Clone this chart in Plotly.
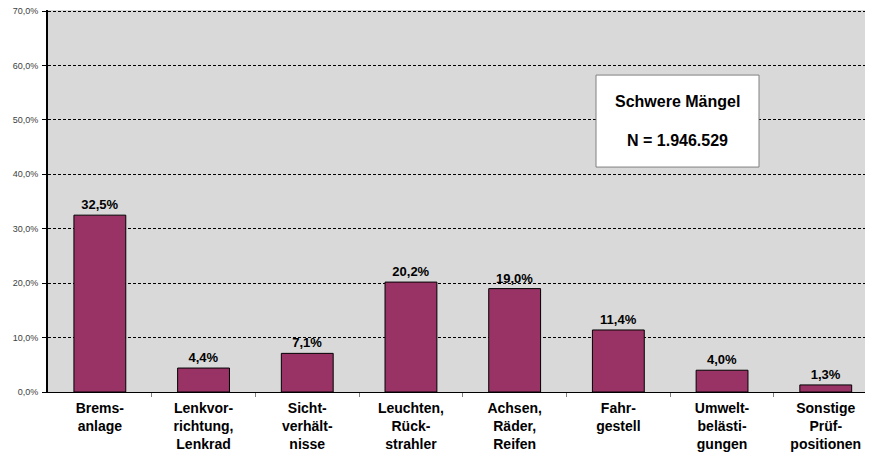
import plotly.graph_objects as go

categories = [
    "Brems-<br>anlage",
    "Lenkvor-<br>richtung,<br>Lenkrad",
    "Sicht-<br>verhält-<br>nisse",
    "Leuchten,<br>Rück-<br>strahler",
    "Achsen,<br>Räder,<br>Reifen",
    "Fahr-<br>gestell",
    "Umwelt-<br>belästi-<br>gungen",
    "Sonstige<br>Prüf-<br>positionen",
]
values = [32.5, 4.4, 7.1, 20.2, 19.0, 11.4, 4.0, 1.3]
y_ticks = [0, 10, 20, 30, 40, 50, 60, 70]
y_tick_labels = ["0,0%", "10,0%", "20,0%", "30,0%", "40,0%", "50,0%", "60,0%", "70,0%"]
box_title = "Schwere Mängel"
box_n = "N = 1.946.529"

labels = [f"{v:.1f}".replace(".", ",") + "%" for v in values]

# page has a default 8px body margin; compensate so the plot lands where the reference has it
OFF = 8
W, H = 873 - OFF, 459 - OFF
PL, PT, PB = 48, 11, 392            # target page pixels of plot left/top/bottom
Y_MAX = 70.2
PT_EXT = PB - (PB - PT) * Y_MAX / 70.0
L, T = PL - OFF, int(round(PT_EXT - OFF))
B = H - (PB - OFF)
plot_w = W - L
plot_h = H - T - B
step = 103.7
x_range = [-0.5, -0.5 + plot_w / step]

def px_to_paper_y(py):
    return (PB - py) / (PB - PT) * 70.0 / Y_MAX

def px_to_paper_x(px):
    return (px - PL) / plot_w

fig = go.Figure()
fig.add_trace(go.Bar(
    x=list(range(len(categories))),
    y=values,
    width=0.5,
    marker=dict(color="#993366", line=dict(color="#000000", width=1)),
    text=labels,
    textposition="outside",
    textfont=dict(family="Liberation Sans", size=13, color="#000000", weight="bold"),
    cliponaxis=False,
    hoverinfo="skip",
))

fig.update_layout(
    width=W, height=H,
    margin=dict(l=L, r=0, t=T, b=B, pad=0, autoexpand=False),
    paper_bgcolor="#ffffff",
    plot_bgcolor="#D9D9D9",
    showlegend=False,
    separators=",.",
)

fig.update_xaxes(
    automargin=False,
    range=x_range,
    tickmode="array",
    tickvals=list(range(len(categories))),
    ticktext=categories,
    showgrid=False,
    zeroline=False,
    showline=True, linecolor="#000000", linewidth=1,
    ticks="",
    tickfont=dict(family="Liberation Sans", size=14, color="#000000", weight="bold"),
    ticklabelstandoff=3,
    ticklabeloverflow="allow",
    minor=dict(tickmode="array", tickvals=[i + 0.5 for i in range(len(categories))],
               ticks="outside", ticklen=4, tickcolor="#808080", tickwidth=1, showgrid=False),
)

fig.update_yaxes(
    automargin=False,
    range=[0, Y_MAX],
    tickmode="array",
    tickvals=y_ticks,
    ticktext=y_tick_labels,
    showgrid=True, gridcolor="#000000", gridwidth=1, griddash="3px,2px",
    zeroline=False,
    showline=True, linecolor="#000000", linewidth=2,
    ticks="outside", ticklen=4, tickcolor="#000000",
    tickfont=dict(family="Liberation Sans", size=9, color="#404040"),
    ticklabelstandoff=2,
    ticklabeloverflow="allow",
)

fig.add_shape(
    type="rect", xref="paper", yref="paper",
    x0=px_to_paper_x(596), x1=px_to_paper_x(759),
    y0=px_to_paper_y(167), y1=px_to_paper_y(75),
    fillcolor="#ffffff", line=dict(color="#808080", width=1), layer="above",
)
cx = px_to_paper_x(677.5)
fig.add_annotation(
    xref="paper", yref="paper", x=cx, y=px_to_paper_y(101.7),
    text=box_title, showarrow=False, xanchor="center", yanchor="middle",
    font=dict(family="Liberation Sans", size=16, color="#000000", weight="bold"),
)
fig.add_annotation(
    xref="paper", yref="paper", x=cx, y=px_to_paper_y(140),
    text=box_n, showarrow=False, xanchor="center", yanchor="middle",
    font=dict(family="Liberation Sans", size=16, color="#000000", weight="bold"),
)

fig.write_html("out.html")
